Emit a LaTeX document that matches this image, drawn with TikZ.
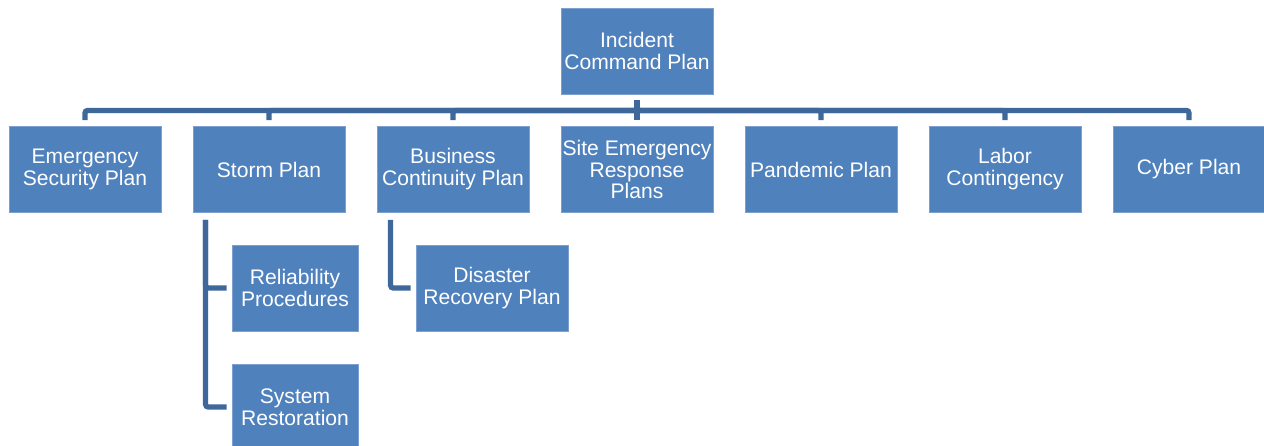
\documentclass[tikz,border=0pt]{standalone}
\usepackage{fontspec}
\setmainfont{Liberation Sans}
\usetikzlibrary{positioning}
\definecolor{boxblue}{RGB}{79,129,189}
\definecolor{boxedge}{RGB}{125,160,208}
\definecolor{linkblue}{RGB}{62,104,155}
\tikzset{
  plan/.style={rectangle,fill=boxblue,draw=boxedge,line width=0.5pt,text=white,
    align=center,inner sep=0pt,minimum width=3.04cm,minimum height=1.72cm,
    font={\fontsize{12}{12.5}\selectfont}},
  subplan/.style={plan,minimum width=2.52cm},
  link/.style={draw=linkblue,line width=3pt,rounded corners=1.5pt}
}
\begin{document}
\begin{tikzpicture}[x=0.02cm,y=-0.02cm]
  \useasboundingbox (0,0) rectangle (1264,446);
  % top of the tree
  \node[plan] (icp) at (637,51) {Incident\\Command Plan};
  % second row
  \node[plan] (esp) at (85,169.5) {Emergency\\Security Plan};
  \node[plan] (storm) at (269,169.5) {Storm Plan};
  \node[plan] (bcp) at (453,169.5) {Business\\Continuity Plan};
  \node[plan] (site) at (637,169.5) {Site Emergency\\Response\\Plans};
  \node[plan] (pand) at (821,169.5) {Pandemic Plan};
  \node[plan] (labor) at (1005,169.5) {Labor\\Contingency};
  \node[plan] (cyber) at (1189,169.5) {Cyber Plan};
  % third level
  \node[subplan] (rel) at (295,288) {Reliability\\Procedures};
  \node[subplan] (sys) at (295,407) {System\\Restoration};
  \node[plan] (drp) at (492,288) {Disaster\\Recovery Plan};
  % links
  \foreach \c in {esp,storm,bcp,site,pand,labor,cyber}
    \draw[link,shorten <=3.4pt,shorten >=3.4pt] (icp.south) -- ++(0,16) -| (\c.north);
  \draw[link,shorten <=4pt,shorten >=2.8pt] ([xshift=0.26cm]storm.south west) |- (rel.west);
  \draw[link,shorten <=4pt,shorten >=2.8pt] ([xshift=0.26cm]storm.south west) |- (sys.west);
  \draw[link,shorten <=4pt,shorten >=2.8pt] ([xshift=0.28cm]bcp.south west) |- (drp.west);
\end{tikzpicture}
\end{document}
